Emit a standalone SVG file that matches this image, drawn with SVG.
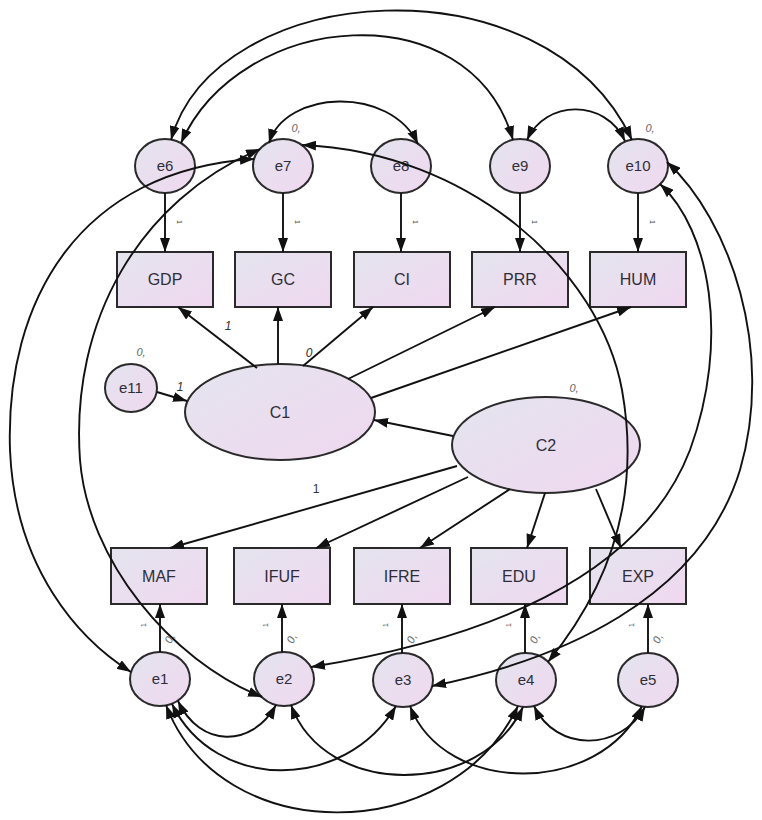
<svg xmlns="http://www.w3.org/2000/svg" width="762" height="820" viewBox="0 0 762 820">
<defs>
<linearGradient id="g" x1="0" y1="0" x2="1" y2="1">
<stop offset="0" stop-color="#e4e4ee"/>
<stop offset="1" stop-color="#f0d8f0"/>
</linearGradient>
<marker id="ah" viewBox="0 0 14 10" refX="14" refY="5" markerWidth="14" markerHeight="10" markerUnits="userSpaceOnUse" orient="auto-start-reverse">
<path d="M0,0 L14,5 L0,10 z" fill="#111"/>
</marker>
<style>
.n{fill:url(#g);stroke:#2a2a2a;stroke-width:2}
.t{font-family:"Liberation Sans",Arial,sans-serif;font-size:16px;fill:#2e2e3a;text-anchor:middle}
.tc{font-family:"Liberation Sans",Arial,sans-serif;font-size:15px;fill:#2e2e3a;text-anchor:middle}
.c{fill:none;stroke:#111;stroke-width:1.9}
.a{marker-end:url(#ah)}
.d{marker-start:url(#ah);marker-end:url(#ah)}
.z{font-family:"Liberation Sans",Arial,sans-serif;font-size:11px;font-style:italic;fill:#666;text-anchor:middle}
.w{font-family:"Liberation Sans",Arial,sans-serif;font-size:12px;font-style:italic;fill:#333;text-anchor:middle}
.s{font-family:"Liberation Sans",Arial,sans-serif;font-size:7px;fill:#444;text-anchor:middle}
</style>
</defs>
<rect width="762" height="820" fill="#fff"/>

<g id="e6"><ellipse class="n" cx="165" cy="166" rx="30" ry="27"/><text class="tc" x="165" y="171">e6</text></g>
<g id="e7"><ellipse class="n" cx="283" cy="166" rx="30" ry="27"/><text class="tc" x="283" y="171">e7</text></g>
<g id="e8"><ellipse class="n" cx="401" cy="166" rx="30" ry="27"/><text class="tc" x="401" y="171">e8</text></g>
<g id="e9"><ellipse class="n" cx="520" cy="166" rx="30" ry="27"/><text class="tc" x="520" y="171">e9</text></g>
<g id="e10"><ellipse class="n" cx="638" cy="166" rx="30" ry="27"/><text class="tc" x="638" y="171">e10</text></g>

<g id="GDP"><rect class="n" x="117" y="252" width="96" height="55"/><text class="t" x="165" y="285">GDP</text></g>
<g id="GC"><rect class="n" x="235" y="252" width="96" height="55"/><text class="t" x="283" y="285">GC</text></g>
<g id="CI"><rect class="n" x="354" y="252" width="96" height="55"/><text class="t" x="402" y="285">CI</text></g>
<g id="PRR"><rect class="n" x="472" y="252" width="96" height="55"/><text class="t" x="520" y="285">PRR</text></g>
<g id="HUM"><rect class="n" x="590" y="252" width="96" height="55"/><text class="t" x="638" y="285">HUM</text></g>

<g id="e11"><ellipse class="n" cx="131" cy="388" rx="26" ry="24"/><text class="tc" x="131" y="393">e11</text></g>
<g id="C1"><ellipse class="n" cx="280" cy="412" rx="95" ry="48"/><text class="t" x="280" y="418">C1</text></g>
<g id="C2"><ellipse class="n" cx="546" cy="445" rx="94" ry="48"/><text class="t" x="546" y="451">C2</text></g>

<g id="MAF"><rect class="n" x="111" y="548" width="96" height="56"/><text class="t" x="159" y="582">MAF</text></g>
<g id="IFUF"><rect class="n" x="234" y="548" width="96" height="56"/><text class="t" x="282" y="582">IFUF</text></g>
<g id="IFRE"><rect class="n" x="354" y="548" width="96" height="56"/><text class="t" x="402" y="582">IFRE</text></g>
<g id="EDU"><rect class="n" x="471" y="548" width="96" height="56"/><text class="t" x="519" y="582">EDU</text></g>
<g id="EXP"><rect class="n" x="590" y="548" width="96" height="56"/><text class="t" x="638" y="582">EXP</text></g>

<g id="e1"><ellipse class="n" cx="160" cy="679" rx="30" ry="27"/><text class="tc" x="160" y="684">e1</text></g>
<g id="e2"><ellipse class="n" cx="284" cy="679" rx="30" ry="27"/><text class="tc" x="284" y="684">e2</text></g>
<g id="e3"><ellipse class="n" cx="403" cy="680" rx="30" ry="27"/><text class="tc" x="403" y="685">e3</text></g>
<g id="e4"><ellipse class="n" cx="526" cy="680" rx="30" ry="27"/><text class="tc" x="526" y="685">e4</text></g>
<g id="e5"><ellipse class="n" cx="648" cy="680" rx="30" ry="27"/><text class="tc" x="648" y="685">e5</text></g>

<g id="connectors">
<path class="c a" d="M165,193 L165,252"/>
<path class="c a" d="M283,193 L283,252"/>
<path class="c a" d="M401,193 L401,252"/>
<path class="c a" d="M520,193 L520,252"/>
<path class="c a" d="M638,193 L638,252"/>
<path class="c a" d="M257,368 L178,307"/>
<path class="c a" d="M278,364 L278,307"/>
<path class="c a" d="M303,366 L373,307"/>
<path class="c a" d="M348,379 L495,307"/>
<path class="c a" d="M371,398 L631,307"/>
<path class="c a" d="M157,392 L187,401"/>
<path class="c a" d="M453,436 L374,420"/>
<path class="c a" d="M457,466 L170,548"/>
<path class="c a" d="M468,477 L316,548"/>
<path class="c a" d="M510,489 L420,548"/>
<path class="c a" d="M545,493 L527,548"/>
<path class="c a" d="M596,489 L621,548"/>
<path class="c a" d="M160,652 L160,604"/>
<path class="c a" d="M282,652 L282,604"/>
<path class="c a" d="M402,653 L402,604"/>
<path class="c a" d="M525,653 L525,604"/>
<path class="c a" d="M648,653 L648,604"/>
<path class="c d" d="M171,140 C215,-20 545,-45 632,140"/>
<path class="c d" d="M181,143 C240,10 470,-10 513,140"/>
<path class="c d" d="M269,143 C285,90 390,85 418,144"/>
<path class="c d" d="M527,140 C545,100 605,98 625,141"/>
<path class="c d" d="M302,145 C470,152 600,270 622,390 C640,490 615,580 548,662"/>
<path class="c d" d="M254,159 C80,170 5,300 10,450 C15,570 80,640 131,672"/>
<path class="c d" d="M260,149 C140,200 70,320 80,460 C88,560 170,660 262,697"/>
<path class="c d" d="M311,667 C480,640 640,580 690,450 C730,340 710,230 660,184"/>
<path class="c d" d="M432,686 C560,660 700,600 740,470 C775,350 730,220 667,162"/>
<path class="c d" d="M178,701 C200,748 252,748 276,705"/>
<path class="c d" d="M172,704 C215,792 345,792 396,706"/>
<path class="c d" d="M166,705 C220,848 450,848 518,706"/>
<path class="c d" d="M291,705 C325,798 480,798 523,707"/>
<path class="c d" d="M410,706 C445,796 600,796 642,706"/>
<path class="c d" d="M534,706 C556,752 620,752 645,707"/>
</g>

<g id="labels">
<text class="z" x="296" y="132">0,</text>
<text class="z" x="650" y="132">0,</text>
<text class="z" x="141" y="356">0,</text>
<text class="z" x="574" y="392">0,</text>
<text class="w" x="228" y="330">1</text>
<text class="w" x="309" y="357">0</text>
<text class="w" x="180" y="391">1</text>
<text font-family="Liberation Sans, Arial, sans-serif" font-size="12" fill="#333" text-anchor="middle" x="316" y="493">1</text>
<g class="s">
<text transform="translate(177,222) rotate(90)">1</text>
<text transform="translate(295,222) rotate(90)">1</text>
<text transform="translate(413,222) rotate(90)">1</text>
<text transform="translate(532,222) rotate(90)">1</text>
<text transform="translate(650,222) rotate(90)">1</text>
<text transform="translate(146,625) rotate(-90)">1</text>
<text transform="translate(268,625) rotate(-90)">1</text>
<text transform="translate(388,625) rotate(-90)">1</text>
<text transform="translate(511,625) rotate(-90)">1</text>
<text transform="translate(634,625) rotate(-90)">1</text>
</g>
<text class="z" transform="translate(173,640) rotate(-65)">0,</text>
<text class="z" transform="translate(295,640) rotate(-65)">0,</text>
<text class="z" transform="translate(415,640) rotate(-65)">0,</text>
<text class="z" transform="translate(538,640) rotate(-65)">0,</text>
<text class="z" transform="translate(661,640) rotate(-65)">0,</text>
</g>
</svg>
